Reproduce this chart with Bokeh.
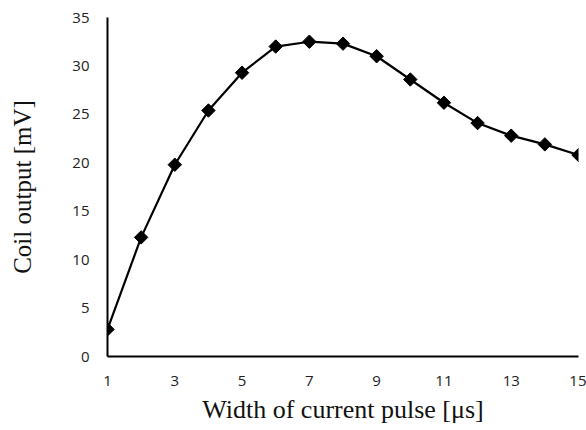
import math
from bokeh.plotting import figure
from bokeh.models import Range1d, FixedTicker
from bokeh.embed import file_html
from bokeh.resources import INLINE

pulse_width_us = [1, 2, 3, 4, 5, 6, 7, 8, 9, 10, 11, 12, 13, 14, 15]
coil_output_mv = [2.8, 12.3, 19.8, 25.4, 29.3, 32.0, 32.5, 32.3, 31.0, 28.6, 26.2, 24.1, 22.8, 21.9, 20.8]
x_ticks = [1, 3, 5, 7, 9, 11, 13, 15]
y_ticks = [0, 5, 10, 15, 20, 25, 30, 35]

p = figure(width=586, height=430, output_backend="svg", toolbar_location=None,
           x_range=Range1d(1, 15), y_range=Range1d(0, 35),
           min_border_left=107, min_border_right=8, min_border_top=17, min_border_bottom=74)
p.outline_line_color = None
p.xgrid.visible = False
p.ygrid.visible = False
p.background_fill_color = "white"
p.border_fill_color = "white"

p.line(pulse_width_us, coil_output_mv, line_color="black", line_width=2.2)
p.scatter(pulse_width_us, coil_output_mv, marker="square", size=9.5, angle=math.pi / 4,
          fill_color="black", line_color="black")

for ax in (p.xaxis[0], p.yaxis[0]):
    ax.axis_line_color = "black"
    ax.axis_line_width = 2
    ax.major_tick_line_color = None
    ax.minor_tick_line_color = None
    ax.major_tick_out = 0
    ax.major_tick_in = 0
    ax.major_label_text_font = "Open Sans"
    ax.major_label_text_font_size = "15px"
    ax.major_label_text_color = "#222222"
    ax.axis_label_text_font = "Liberation Serif"
    ax.axis_label_text_font_style = "normal"
    ax.axis_label_text_color = "#111111"

p.xaxis[0].axis_label_text_font_size = "26px"
p.yaxis[0].axis_label_text_font_size = "25px"
p.xaxis[0].ticker = FixedTicker(ticks=x_ticks)
p.yaxis[0].ticker = FixedTicker(ticks=y_ticks)
p.xaxis[0].axis_label = "Width of current pulse [μs]"
p.yaxis[0].axis_label = "Coil output [mV]"
p.xaxis[0].major_label_standoff = 19
p.yaxis[0].major_label_standoff = 18
p.xaxis[0].axis_label_standoff = 6
p.yaxis[0].axis_label_standoff = 33

open("out.html", "w").write(file_html(p, INLINE))
